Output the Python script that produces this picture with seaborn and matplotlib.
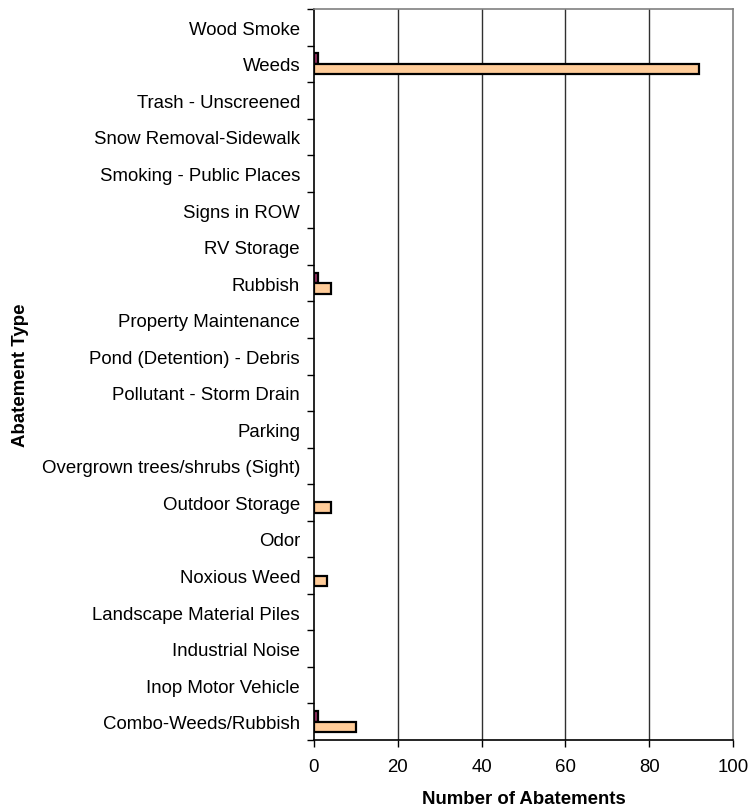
import matplotlib
matplotlib.use("Agg")
import matplotlib.pyplot as plt
import seaborn as sns
import pandas as pd
import numpy as np

categories = [
    "Wood Smoke", "Weeds", "Trash - Unscreened", "Snow Removal-Sidewalk",
    "Smoking - Public Places", "Signs in ROW", "RV Storage", "Rubbish",
    "Property Maintenance", "Pond (Detention) - Debris", "Pollutant - Storm Drain",
    "Parking", "Overgrown trees/shrubs (Sight)", "Outdoor Storage", "Odor",
    "Noxious Weed", "Landscape Material Piles", "Industrial Noise",
    "Inop Motor Vehicle", "Combo-Weeds/Rubbish",
]
series_a = [0, 1, 0, 0, 0, 0, 0, 1, 0, 0, 0, 0, 0, 0, 0, 0, 0, 0, 0, 1]
series_b = [0, 92, 0, 0, 0, 0, 0, 4, 0, 0, 0, 0, 0, 4, 0, 3, 0, 0, 0, 10]
series_names = ["A", "B"]
x_ticks = [0, 20, 40, 60, 80, 100]

df = pd.DataFrame({
    "type": categories * 2,
    "count": series_a + series_b,
    "series": [series_names[0]] * len(categories) + [series_names[1]] * len(categories),
})

sns.set_style("white")
plt.rcParams["font.family"] = ["Liberation Sans", "DejaVu Sans"]
plt.rcParams["text.color"] = "black"
plt.rcParams["axes.labelcolor"] = "black"
plt.rcParams["xtick.color"] = "black"
plt.rcParams["ytick.color"] = "black"

fig = plt.figure(figsize=(7.49, 8.12), dpi=100)
ax = fig.add_axes([0.4192, 0.0874, 0.9786 - 0.4192, 0.9877 - 0.0874])

sns.barplot(
    data=df, y="type", x="count", hue="series", order=categories,
    hue_order=series_names, palette=["#993366", "#FFCC99"], saturation=1,
    orient="h", width=0.575, edgecolor="black", linewidth=1.6, legend=False,
    ax=ax, errorbar=None,
)

# hide empty bars so they do not leave a line on the axis
for p in ax.patches:
    if p.get_width() == 0:
        p.set_visible(False)

ax.set_xlim(0, 100)
ax.set_ylim(len(categories) - 0.5, -0.5)
ax.set_xticks(x_ticks)
ax.set_xticklabels([str(t) for t in x_ticks], fontsize=13.4)

ax.set_yticks(range(len(categories)))
ax.set_yticklabels(categories, fontsize=13.4)
ax.tick_params(axis="y", which="major", left=True, length=0, pad=10)
ax.set_yticks(np.arange(-0.5, len(categories) + 0.5, 1), minor=True)
ax.tick_params(axis="y", which="minor", left=True, length=5, width=1,
               color="black", direction="out")
ax.tick_params(axis="x", which="major", bottom=True, length=5, width=1,
               color="black", direction="out", pad=8)

for xv in x_ticks[1:-1]:
    ax.axvline(xv, color="#303030", linewidth=1.0, zorder=0)

for side in ["top", "right"]:
    ax.spines[side].set_color("#808080")
    ax.spines[side].set_linewidth(1.2)
for side in ["left", "bottom"]:
    ax.spines[side].set_color("black")
    ax.spines[side].set_linewidth(1.2)

ax.set_xlabel("Number of Abatements", fontsize=13.4, fontweight="bold", labelpad=11)
ax.set_ylabel("")
fig.text(21 / 749, 0.5 * (0.9877 + 0.0874), "Abatement Type", rotation=90,
         fontsize=13.4, fontweight="bold", ha="center", va="center")

fig.savefig("out.png", dpi=100)
